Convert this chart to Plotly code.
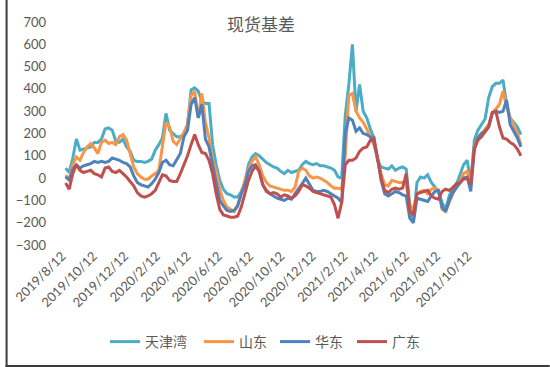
import pandas as pd
import plotly.graph_objects as go

# weekly observation dates
start_date = "2019-08-19"
n_points = 128
dates = pd.date_range(start_date, periods=n_points, freq="7D")

series_names = ["天津湾", "山东", "华东", "广东"]
series_colors = ["#4BACC6", "#F79646", "#4F81BD", "#C0504D"]

tianjinwan = [45, 25, 90, 175, 125, 130, 135, 140, 160, 160,
              175, 220, 225, 215, 165, 160, 175, 140, 120, 80,
              75, 75, 70, 75, 85, 125, 150, 180, 290, 215,
              200, 185, 185, 200, 240, 395, 405, 390, 345, 335,
              335, 150, 60, -10, -50, -70, -75, -85, -85, -60,
              -20, 60, 95, 110, 100, 85, 70, 60, 50, 45,
              30, 20, 35, 25, 30, 35, 60, 75, 65, 60,
              65, 55, 55, 50, 45, 35, 5, 0, 280, 420,
              600, 300, 420, 300, 270, 220, 180, 80, 50, 45,
              40, 55, 35, 45, 50, 40, -120, -190, -20, 5,
              0, 15, -20, -40, -60, -110, -140, -80, -40, -30,
              20, 60, 80, -20, 170, 215, 240, 265, 360, 410,
              425, 425, 440, 330, 270, 250, 230, 195]

shandong = [13, -5, 60, 95, 80, 115, 140, 155, 135, 110,
            160, 170, 155, 160, 150, 185, 195, 170, 110, 50,
            20, 5, -5, -5, 10, 20, 35, 140, 250, 230,
            165, 150, 175, 205, 240, 370, 390, 270, 380, 250,
            180, 80, 30, -50, -100, -130, -140, -150, -120, -60,
            -10, 40, 75, 95, 60, 10, -20, -35, -40, -45,
            -50, -55, -55, -60, -40, 30, 45, 35, 10, 0,
            5, 0, -10, -20, -35, -45, -45, -50, 100, 370,
            380, 300, 270, 250, 220, 185, 150, 90, 20, -30,
            -35, -10, -15, -20, -20, -30, -120, -140, -70, -60,
            -55, -70, -50, -45, -55, -140, -150, -110, -70, -40,
            -15, 20, 30, -20, 140, 180, 200, 215, 240, 290,
            310, 330, 390, 320, 270, 240, 200, 150]

huadong = [5, -9, 40, 60, 45, 55, 60, 65, 75, 70,
           75, 70, 75, 90, 85, 80, 70, 65, 50, 10,
           -20, -30, -35, -40, -25, -5, 25, 70, 80, 60,
           55, 80, 110, 185, 215, 330, 360, 270, 330, 175,
           140, 60, -20, -100, -125, -145, -150, -145, -125, -70,
           -30, 30, 55, 60, 30, -30, -55, -70, -80, -90,
           -95, -100, -90, -95, -70, -50, -25, 0, -30, -55,
           -60, -60, -55, -60, -70, -80, -90, -110, 200, 270,
           260, 210, 225, 200, 195, 185, 160, 90, -10, -70,
           -80, -70, -60, -65, -75, -80, -180, -200, -90, -95,
           -100, -105, -80, -60, -55, -130, -150, -100, -65, -45,
           -20, 0, 5, -60, 130, 180, 200, 210, 230, 290,
           300, 295, 300, 350, 240, 210, 180, 140]

guangdong = [-22, -50, 20, 60, 35, 25, 30, 35, 20, 15,
             5, 45, 50, 30, 25, 35, 20, 5, -15, -35,
             -65, -80, -85, -80, -70, -55, -20, 15, 10, -10,
             -15, -15, 20, 60, 100, 150, 195, 150, 115, 110,
             80, 20, -70, -140, -165, -170, -175, -175, -170, -130,
             -70, -10, 30, 55, 30, -30, -60, -70, -65, -70,
             -85, -75, -80, -90, -80, -60, -30, -35, -45, -60,
             -65, -70, -75, -80, -85, -120, -180, -110, 60, 80,
             80, 90, 120, 135, 140, 170, 180, 90, 0, -55,
             -65, -50, -45, -50, -45, 20, -150, -165, -70, -65,
             -60, -55, -80, -90, -95, -60, -50, -55, -45, -25,
             -20, -5, 0, -30, 130, 170, 185, 210, 230, 295,
             300, 230, 180, 175, 160, 150, 130, 100]

y_tick_vals = [-300, -200, -100, 0, 100, 200, 300, 400, 500, 600, 700]
x_tick_labels = ["2019/8/12", "2019/10/12", "2019/12/12", "2020/2/12", "2020/4/12",
                 "2020/6/12", "2020/8/12", "2020/10/12", "2020/12/12", "2021/2/12",
                 "2021/4/12", "2021/6/12", "2021/8/12", "2021/10/12"]
x_tick_vals = [pd.to_datetime(s, format="%Y/%m/%d") for s in x_tick_labels]

all_series = [tianjinwan, shandong, huadong, guangdong]

W, H = 550, 367
plot_l, plot_r = 56, 524
plot_t, plot_b = 22, 245

legend_keys = ["legend", "legend2", "legend3", "legend4"]
legend_left_px = [105, 199, 275, 352]

fig = go.Figure()
for name, color, vals, lk in zip(series_names, series_colors, all_series, legend_keys):
    fig.add_trace(go.Scatter(x=dates, y=vals, mode="lines", name=name,
                             line=dict(color=color, width=3), legend=lk))

legend_common = dict(orientation="h", xref="container", yref="container",
                     xanchor="left", y=1 - 342 / H, yanchor="middle",
                     font=dict(family="Noto Sans CJK SC", size=14, color="#595959"),
                     itemwidth=30, bgcolor="rgba(0,0,0,0)")

layout_legends = {lk: dict(legend_common, x=lx / W) for lk, lx in zip(legend_keys, legend_left_px)}

fig.update_layout(
    width=W, height=H,
    margin=dict(l=plot_l, r=W - plot_r, t=plot_t, b=H - plot_b),
    paper_bgcolor="white", plot_bgcolor="white",
    font=dict(family="Lato, 'Noto Sans CJK SC', sans-serif", color="#595959", size=13),
    title=dict(text="现货基差", x=261 / W, xref="container", xanchor="center",
               y=1 - 25 / H, yref="container", yanchor="middle",
               font=dict(family="Noto Sans CJK SC", size=17, color="#595959")),
    showlegend=True,
    xaxis=dict(type="date", range=["2019-08-10", "2022-01-30"],
               tickmode="array", tickvals=x_tick_vals, ticktext=x_tick_labels,
               tickangle=-45, showgrid=False, zeroline=False, showline=False,
               ticks="", tickfont=dict(size=13, color="#595959")),
    yaxis=dict(range=[-300, 700], tickmode="array", tickvals=y_tick_vals,
               showgrid=False, zeroline=False, showline=False, ticks="",
               ticklabelstandoff=14, tickfont=dict(size=13, color="#595959")),
    **layout_legends,
)

# thin dark frame on left and bottom edges of the picture
pw = plot_r - plot_l
ph = plot_b - plot_t
def px_to_paper_x(px):
    return (px - plot_l) / pw
def py_to_paper_y(py):
    return (plot_b - py) / ph
fig.add_shape(type="line", xref="paper", yref="paper",
              x0=px_to_paper_x(1), x1=px_to_paper_x(1),
              y0=py_to_paper_y(0), y1=py_to_paper_y(367),
              line=dict(color="#3a3a3a", width=2))
fig.add_shape(type="line", xref="paper", yref="paper",
              x0=px_to_paper_x(0), x1=px_to_paper_x(550),
              y0=py_to_paper_y(366), y1=py_to_paper_y(366),
              line=dict(color="#3a3a3a", width=2))

fig.write_html("out.html", config={"displayModeBar": False},
               post_script="document.body.style.margin='0px';")
